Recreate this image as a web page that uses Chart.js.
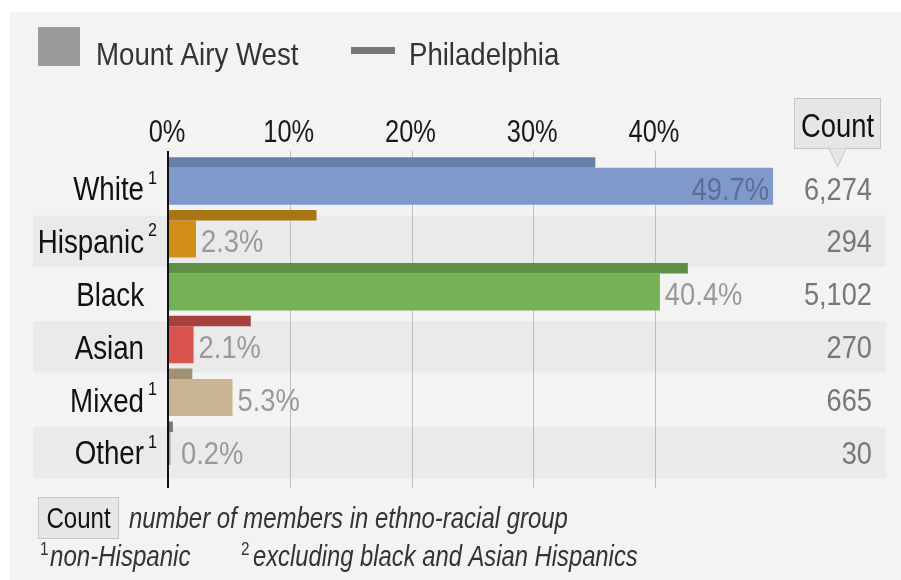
<!DOCTYPE html>
<html>
<head>
<meta charset="utf-8">
<script src="https://cdn.jsdelivr.net/npm/chart.js@4.4.1/dist/chart.umd.min.js"></script>
<style>
  html, body { margin: 0; padding: 0; background: #fff; }
  #wrap { position: relative; width: 901px; height: 580px; }
</style>
</head>
<body>
<div id="wrap"><canvas id="groupChart" width="901" height="580"></canvas></div>
<script>
// values
const groups = ["White", "Hispanic", "Black", "Asian", "Mixed", "Other"];
const footMarks = ["1", "2", "", "", "1", "1"];
const mountAiryWest = [49.7, 2.3, 40.4, 2.1, 5.3, 0.2];
const philadelphia = [35.1, 12.2, 42.7, 6.8, 2.0, 0.4];
const counts = [6274, 294, 5102, 270, 665, 30];
const percentTicks = [0, 10, 20, 30, 40];

// colours
const areaColors = ["#7f99cb", "#d18f1a", "#75b256", "#d9534f", "#c9b592", "#9a9a9a"];
const cityColors = ["#6680a8", "#a87512", "#5f8f45", "#a84040", "#a19076", "#777777"];

const FONT = '"Liberation Sans", Arial, sans-serif';

// the reference uses a condensed face, so squeeze Liberation Sans sideways
function narrowText(ctx, text, x, cy, size, sx, align, style) {
    ctx.save();
    ctx.font = (style ? style + " " : "") + size + "px " + FONT;
    ctx.textAlign = align || "left";
    ctx.translate(x, cy + size * 0.344);
    ctx.scale(sx, 1);
    ctx.fillText(text, 0, 0);
    ctx.restore();
}

function narrowWidth(ctx, text, size, sx) {
    ctx.save();
    ctx.font = size + "px " + FONT;
    const w = ctx.measureText(text).width * sx;
    ctx.restore();
    return w;
}

const decor = {
    id: "decor",
    beforeDraw(chart) {
        const ctx = chart.ctx;
        ctx.save();
        // card
        ctx.fillStyle = "#f3f3f3";
        ctx.fillRect(10, 12, 891, 568);

        // legend
        ctx.fillStyle = "#9b9b9b";
        ctx.fillRect(38, 27, 42, 39);
        ctx.fillStyle = "#777";
        ctx.fillRect(351, 47, 44, 7);
        ctx.fillStyle = "#333";
        narrowText(ctx, "Mount Airy West", 96, 54, 32, 0.865);
        narrowText(ctx, "Philadelphia", 409, 54, 32, 0.862);

        // count header with pointer
        ctx.fillStyle = "#e6e6e6";
        ctx.strokeStyle = "#c6c6c6";
        ctx.lineWidth = 1;
        ctx.fillRect(794.5, 98.5, 86, 50);
        ctx.strokeRect(794.5, 98.5, 86, 50);
        ctx.beginPath();
        ctx.moveTo(829, 148.5);
        ctx.lineTo(837.5, 167);
        ctx.lineTo(846, 148.5);
        ctx.fill();
        ctx.stroke();
        ctx.fillStyle = "#111";
        narrowText(ctx, "Count", 837.5, 126, 33, 0.83, "center");

        // footer
        ctx.fillStyle = "#e6e6e6";
        ctx.fillRect(38.5, 497.5, 80, 41);
        ctx.strokeRect(38.5, 497.5, 80, 41);
        ctx.fillStyle = "#111";
        narrowText(ctx, "Count", 78.5, 518, 29, 0.83, "center");
        ctx.fillStyle = "#333";
        narrowText(ctx, "number of members in ethno-racial group", 129, 518, 29, 0.825, "left", "italic");
        narrowText(ctx, "non-Hispanic", 50, 556, 29, 0.83, "left", "italic");
        narrowText(ctx, "excluding black and Asian Hispanics", 253, 556, 29, 0.82, "left", "italic");
        narrowText(ctx, "1", 40, 549, 18, 0.85);
        narrowText(ctx, "2", 241, 549, 18, 0.85);
        ctx.restore();
    },
    beforeDatasetsDraw(chart) {
        const ctx = chart.ctx;
        const x = chart.scales.x;
        const bars = chart.getDatasetMeta(1).data;
        ctx.save();
        // alternate row bands
        ctx.fillStyle = "#eaeaea";
        bars.forEach((bar, i) => {
            if (i % 2 === 1) {
                ctx.fillRect(33, bar.y + 2.3 - 25.5, 853, 51);
            }
        });
        // vertical grid lines and tick labels from the x scale
        ctx.strokeStyle = "#bdbdbd";
        ctx.lineWidth = 1;
        x.ticks.forEach(t => {
            const px = x.getPixelForValue(t.value);
            if (t.value > 0) {
                ctx.beginPath();
                ctx.moveTo(Math.round(px) + 0.5, 151);
                ctx.lineTo(Math.round(px) + 0.5, 488);
                ctx.stroke();
            }
            ctx.fillStyle = "#1a1a1a";
            narrowText(ctx, t.value + "%", px - 1, 131, 31, 0.82, "center");
        });
        ctx.restore();
    },
    afterDatasetsDraw(chart) {
        const ctx = chart.ctx;
        const x = chart.scales.x;
        const bars = chart.getDatasetMeta(1).data;
        ctx.save();
        // axis line
        ctx.strokeStyle = "#111";
        ctx.lineWidth = 2;
        const x0 = x.getPixelForValue(0);
        ctx.beginPath();
        ctx.moveTo(x0, 151);
        ctx.lineTo(x0, 488);
        ctx.stroke();

        bars.forEach((bar, i) => {
            const cy = bar.y + 2.3;
            // group name with footnote mark
            ctx.fillStyle = "#111";
            narrowText(ctx, groups[i], 144, cy, 34, 0.815, "right");
            if (footMarks[i]) {
                narrowText(ctx, footMarks[i], 148, cy - 11.5, 19, 0.85);
            }
            // percent label
            const label = mountAiryWest[i].toFixed(1) + "%";
            const w = narrowWidth(ctx, label, 32, 0.855);
            if (bar.x + 5 + w > chart.chartArea.right) {
                ctx.fillStyle = "#5b6d96";
                narrowText(ctx, label, bar.x - 4, cy, 32, 0.855, "right");
            } else {
                ctx.fillStyle = "#999";
                narrowText(ctx, label, Math.max(bar.x + 5, x0 + 13), cy, 32, 0.855, "left");
            }
            // count
            ctx.fillStyle = "#777";
            narrowText(ctx, counts[i].toLocaleString("en-US"), 872, cy, 32, 0.85, "right");
        });
        ctx.restore();
    }
};

const ctx = document.getElementById("groupChart");
new Chart(ctx, {
    type: "bar",
    data: {
        labels: groups,
        datasets: [
            {
                label: "Philadelphia",
                data: philadelphia,
                backgroundColor: cityColors,
                categoryPercentage: 0.899,
                barPercentage: 0.442
            },
            {
                label: "Mount Airy West",
                data: mountAiryWest,
                backgroundColor: areaColors,
                categoryPercentage: 0.899,
                barPercentage: 1.558
            }
        ]
    },
    options: {
        indexAxis: "y",
        responsive: false,
        animation: false,
        layout: {
            padding: { left: 168, right: 124.25, top: 147.9, bottom: 115 }
        },
        plugins: {
            legend: { display: false },
            tooltip: { enabled: false }
        },
        scales: {
            x: {
                position: "top",
                min: 0,
                max: 50,
                afterBuildTicks: scale => {
                    scale.ticks = percentTicks.map(v => ({ value: v }));
                },
                grid: { display: false, drawTicks: false },
                border: { display: false },
                ticks: { display: false }
            },
            y: { display: false }
        }
    },
    plugins: [decor]
});
</script>
</body>
</html>
